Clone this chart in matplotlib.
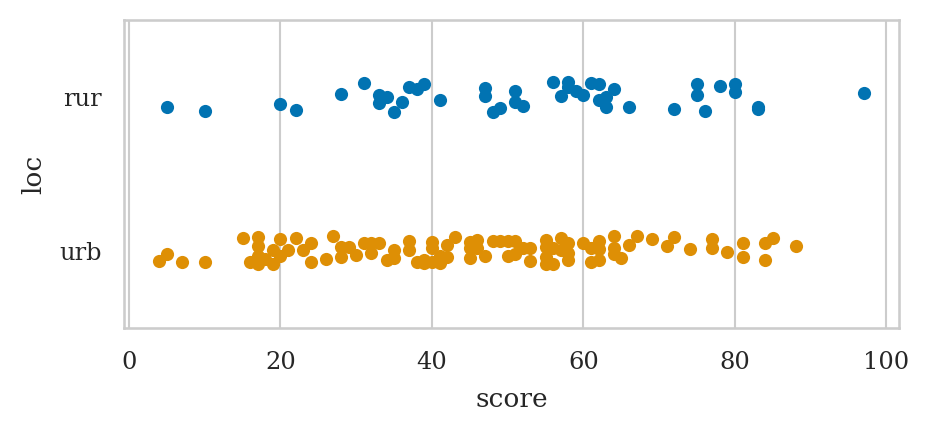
import numpy as np
import matplotlib
matplotlib.use('Agg')
import matplotlib.pyplot as plt
import seaborn as sns

sns.set_theme(style='whitegrid', palette='colorblind')
plt.rcParams['font.family'] = ['DejaVu Serif']

# categories and values
locs = ['rur', 'urb']
rur_score = [5, 10, 20, 22, 28, 31, 33, 34, 33, 35, 36, 37, 38, 39, 41, 47, 47, 48, 49,
             51, 51, 52, 56, 57, 58, 58, 59, 60, 61, 62, 62, 63, 63, 64, 66, 72, 75, 75,
             76, 78, 80, 80, 83, 83, 97]
rur_jitter = [0.061, 0.089, 0.045, 0.080, -0.021, -0.091, -0.017, -0.004, 0.039, 0.094,
              0.032, -0.065, -0.052, -0.086, 0.016, -0.060, -0.008, 0.094, 0.068, -0.043,
              0.029, 0.056, -0.099, -0.008, -0.099, -0.069, -0.041, -0.015, -0.091, -0.084,
              0.018, 0.061, -0.004, -0.052, 0.061, 0.076, -0.086, -0.017, 0.087, -0.075,
              -0.086, -0.032, 0.061, 0.078, -0.030]
urb_score = [4, 5, 7, 10, 15, 16, 17, 17, 17, 17, 18, 19, 19, 20, 20, 21, 22, 23, 24, 24,
             26, 27, 28, 28, 29, 30, 31, 32, 32, 33, 34, 35, 35, 37, 37, 38, 39, 39, 40, 40,
             40, 41, 41, 42, 42, 43, 45, 45, 45, 46, 46, 47, 48, 49, 50, 50, 51, 51, 52, 53,
             53, 55, 55, 55, 55, 56, 56, 57, 57, 58, 58, 58, 60, 61, 61, 62, 62, 62, 64, 64,
             64, 65, 66, 67, 69, 71, 72, 74, 77, 77, 79, 81, 81, 84, 84, 85, 88]
urb_jitter = [0.063, 0.018, 0.069, 0.069, -0.086, 0.069, -0.093, -0.034, 0.031, 0.082,
              0.050, -0.008, 0.082, -0.080, 0.031, -0.008, -0.086, -0.008, -0.054, 0.069,
              0.050, -0.099, -0.028, 0.037, -0.028, 0.024, -0.054, -0.054, 0.011, -0.054,
              0.056, -0.008, 0.044, -0.067, -0.008, 0.069, 0.056, 0.076, -0.060, -0.021,
              0.069, 0.031, 0.076, -0.041, 0.037, -0.093, -0.060, -0.021, 0.044, -0.073,
              -0.021, 0.031, -0.067, -0.067, -0.067, 0.031, -0.067, 0.018, -0.021, -0.021,
              0.063, -0.073, -0.028, 0.037, 0.082, -0.021, 0.082, -0.086, -0.008, -0.054,
              0.011, 0.056, -0.054, -0.021, 0.069, -0.067, -0.015, 0.056, -0.099, -0.021,
              0.018, 0.044, -0.043, -0.099, -0.078, -0.034, -0.093, -0.013, -0.080, -0.021,
              0.005, -0.054, 0.037, -0.054, 0.056, -0.086, -0.034]

colors = sns.color_palette('colorblind')

fig, ax = plt.subplots(figsize=(929 / 150, 432 / 150), dpi=150)
fig.subplots_adjust(left=0.1335, right=0.9677, top=0.953, bottom=0.2405)

for i, (score, jit) in enumerate([(rur_score, rur_jitter), (urb_score, urb_jitter)]):
    ax.scatter(score, i + np.array(jit), s=40, color=colors[i], linewidth=0, zorder=3)

ax.set_yticks([0, 1])
ax.set_yticklabels(locs)
ax.set_ylim(1.5, -0.5)
ax.grid(False, axis='y')
ax.set_xticks([0, 20, 40, 60, 80, 100])
ax.tick_params(labelsize=11.6, pad=4.8)
ax.set_xlabel('score', fontsize=12.7, labelpad=6.3)
ax.set_ylabel('loc', fontsize=12.7, labelpad=6.3)

plt.savefig('out.png', dpi=150)
